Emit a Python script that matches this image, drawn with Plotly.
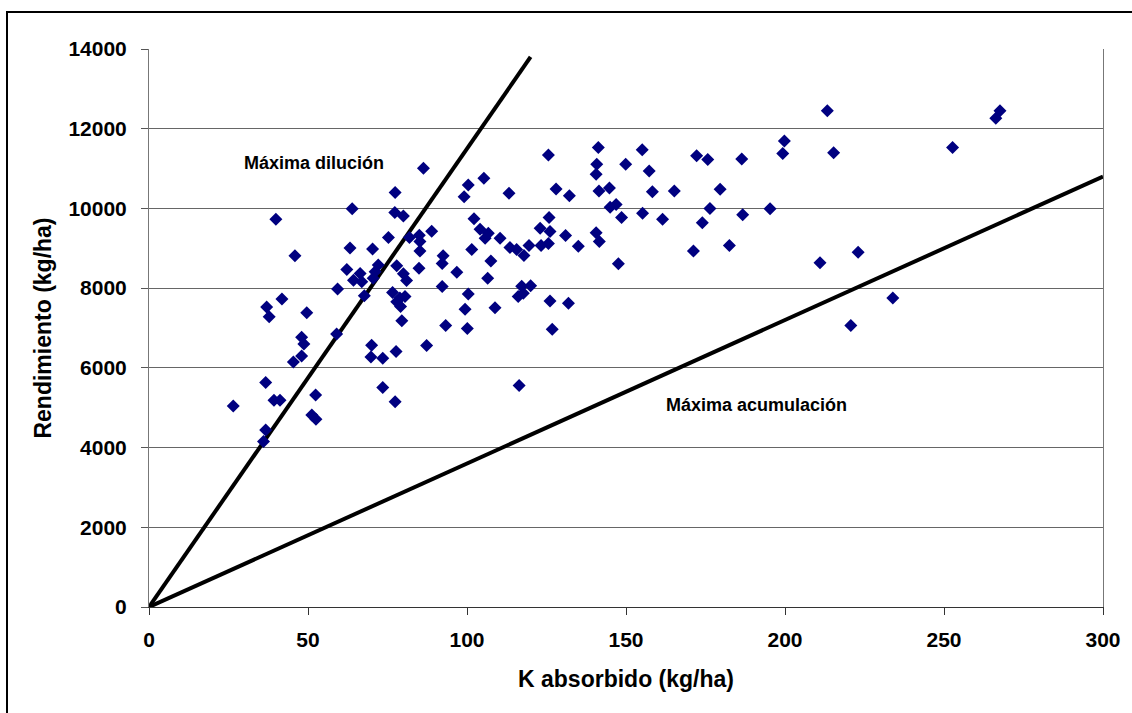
import plotly.graph_objects as go

# K absorbido (kg/ha)
k_abs = [26.5, 36.0, 36.7, 36.7, 37.0, 37.8, 39.3, 41.2, 39.9, 41.8,
         45.4, 45.9, 48.0, 48.0, 48.7, 49.6, 51.2, 52.4, 52.5, 59.0,
         59.3, 62.2, 63.2, 63.9, 64.3, 66.4, 66.9, 67.7, 69.8, 70.0,
         70.3, 70.5, 71.1, 72.1, 73.5, 73.5, 75.3, 76.6, 77.3, 77.4,
         77.4, 77.7, 77.9, 77.9, 78.9, 79.1, 79.5, 80.0, 80.0, 80.5,
         81.0, 81.9, 84.9, 85.0, 85.2, 85.2, 86.3, 87.3, 88.9, 92.2,
         92.2, 92.5, 93.3, 96.8, 99.1, 99.4, 100.1, 100.4, 100.4, 101.5,
         102.2, 104.1, 105.3, 105.7, 106.5, 106.7, 107.5, 108.8, 110.4, 113.2,
         113.5, 115.6, 116.1, 116.4, 117.2, 117.7, 117.9, 119.5, 120.0, 123.0,
         123.3, 125.6, 125.6, 125.8, 126.1, 126.1, 126.8, 128.0, 131.0, 131.9,
         132.2, 135.0, 140.6, 140.8, 141.3, 140.6, 141.6, 141.5, 144.8, 145.0,
         146.9, 147.6, 148.6, 149.9, 155.1, 155.2, 157.3, 158.3, 161.5, 165.2,
         171.2, 172.2, 174.0, 175.7, 176.4, 179.6, 182.5, 186.4, 186.7, 195.3,
         199.3, 199.8, 211.0, 213.3, 215.3, 220.7, 223.0, 233.9, 252.7, 266.3,
         267.6]

# Rendimiento (kg/ha)
rend = [5040, 4150, 4440, 5630, 7530, 7280, 5190, 5190, 9730, 7730,
        6150, 8810, 6300, 6770, 6600, 7380, 4820, 5320, 4710, 6850,
        7980, 8470, 9010, 9990, 8200, 8370, 8160, 7810, 6270, 6570,
        8980, 8250, 8410, 8580, 6240, 5510, 9270, 7890, 9900, 10400,
        5150, 6410, 8560, 7660, 7750, 7540, 7180, 9810, 8360, 7790,
        8190, 9270, 8500, 9330, 9170, 8930, 11010, 6560, 9430, 8040,
        8620, 8810, 7060, 8400, 10290, 7470, 6990, 10590, 7850, 8970,
        9740, 9480, 10760, 9250, 8250, 9380, 8680, 7510, 9250, 10380,
        9020, 8970, 7790, 5560, 8050, 7870, 8820, 9070, 8060, 9500,
        9070, 11340, 9120, 9770, 9420, 7680, 6970, 10490, 9320, 7620,
        10320, 9050, 10860, 11110, 11530, 9390, 9170, 10440, 10510, 10030,
        10100, 8610, 9770, 11110, 11470, 9880, 10940, 10420, 9730, 10440,
        8930, 11320, 9640, 11230, 10000, 10480, 9070, 11240, 9840, 9990,
        11380, 11690, 8640, 12450, 11400, 7060, 8900, 7750, 11530, 12260,
        12450]

# Boundary lines
dil_x = [0, 120]
dil_y = [0, 13800]
acu_x = [0, 300]
acu_y = [0, 10800]

x_ticks = [0, 50, 100, 150, 200, 250, 300]
y_ticks = [0, 2000, 4000, 6000, 8000, 10000, 12000, 14000]

FONT = "Liberation Sans, Arial, sans-serif"

fig = go.Figure()
fig.add_trace(go.Scatter(x=dil_x, y=dil_y, mode="lines",
                         line=dict(color="black", width=4), showlegend=False,
                         hoverinfo="skip"))
fig.add_trace(go.Scatter(x=acu_x, y=acu_y, mode="lines",
                         line=dict(color="black", width=4), showlegend=False,
                         hoverinfo="skip"))
fig.add_trace(go.Scatter(x=k_abs, y=rend, mode="markers",
                         marker=dict(symbol="diamond", size=10, color="#000080",
                                     line=dict(width=0)),
                         showlegend=False))

fig.add_annotation(x=52, y=11150, text="<b>Máxima dilución</b>", showarrow=False,
                   font=dict(family=FONT, size=18, color="black"))
fig.add_annotation(x=191, y=5080, text="<b>Máxima acumulación</b>", showarrow=False,
                   font=dict(family=FONT, size=18, color="black"))

# outer frame
fig.add_shape(type="rect", xref="paper", yref="paper",
              x0=(7 - 149) / 954, x1=(1145 - 149) / 954,
              y0=(607 - 725) / 558, y1=(607 - 12) / 558,
              line=dict(color="black", width=2), layer="below")

fig.update_layout(
    width=1132, height=713,
    margin=dict(l=149, r=29, t=49, b=106),
    paper_bgcolor="white", plot_bgcolor="white",
    font=dict(family=FONT, color="black"),
    xaxis=dict(range=[0, 300], tickvals=x_ticks,
               ticktext=["<b>%d</b>" % v for v in x_ticks],
               ticks="outside", ticklen=7, automargin=False,
               tickcolor="#333333", showgrid=False, zeroline=False,
               showline=True, linecolor="#333333", linewidth=1, mirror=False,
               tickfont=dict(family=FONT, size=21, color="black"),
               ticklabelstandoff=7,
               title=dict(text="<b>K absorbido (kg/ha)</b>",
                          font=dict(family=FONT, size=23, color="black"),
                          standoff=20)),
    yaxis=dict(range=[0, 14000], tickvals=y_ticks,
               ticktext=["<b>%d</b>" % v for v in y_ticks],
               ticks="outside", ticklen=7, automargin=False,
               tickcolor="#555555", showgrid=True, gridcolor="#666666",
               gridwidth=1, zeroline=False, showline=True, linecolor="#777777",
               linewidth=1, mirror=True,
               tickfont=dict(family=FONT, size=21, color="black"),
               ticklabelstandoff=10,
               title=dict(text="<b>Rendimiento (kg/ha)</b>",
                          font=dict(family=FONT, size=23, color="black"),
                          standoff=10)),
)

fig.write_html("out.html", config={"displayModeBar": False},
               post_script="document.body.style.margin='0px';document.body.style.overflow='hidden';")
